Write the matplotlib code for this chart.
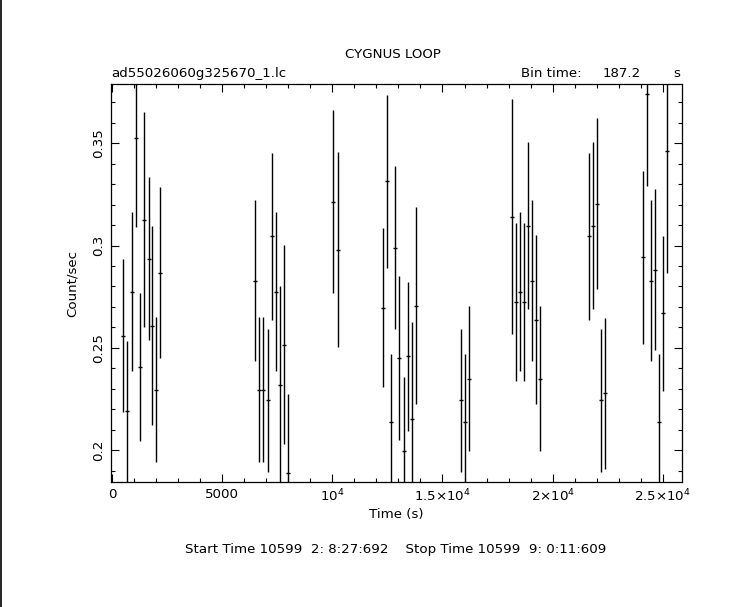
import matplotlib
matplotlib.use("Agg")
import matplotlib.pyplot as plt
from matplotlib.lines import Line2D
from matplotlib.ticker import MultipleLocator, FixedLocator
import numpy as np

# light curve, 187.2 s bins
time_s = [513, 695, 922, 1104, 1285, 1466, 1664, 1830, 2011, 2193,
          6491, 6687, 6868, 7095, 7277, 7458, 7640, 7821, 8003,
          10045, 10272,
          12315, 12497, 12678, 12860, 13041, 13268, 13450, 13631, 13813,
          15856, 16037, 16219,
          18143, 18325, 18507, 18688, 18870, 19052, 19233, 19442,
          21666, 21848, 22029, 22211, 22392,
          24117, 24299, 24481, 24662, 24844, 25025, 25207]
rate = [0.256, 0.2189, 0.2775, 0.3528, 0.2405, 0.3127, 0.2936, 0.2609, 0.2296, 0.2868,
        0.2829, 0.2296, 0.2296, 0.2243, 0.3045, 0.2775, 0.2317, 0.2516, 0.189,
        0.3215, 0.298,
        0.2697, 0.3314, 0.2136, 0.299, 0.2449, 0.1995, 0.2458, 0.2154, 0.2707,
        0.2243, 0.2136, 0.235,
        0.3142, 0.2723, 0.2775, 0.2723, 0.3098, 0.2829, 0.2638, 0.235,
        0.3045, 0.3098, 0.3205, 0.2243, 0.2277,
        0.2944, 0.3743, 0.2829, 0.2883, 0.2136, 0.2668, 0.3464]
rate_err = [0.0373, 0.0343, 0.0388, 0.0437, 0.0361, 0.0525, 0.040, 0.0488, 0.0354, 0.0417,
            0.0393, 0.0354, 0.0354, 0.035, 0.0407, 0.0388, 0.0484, 0.0487, 0.0385,
            0.0448, 0.0476,
            0.039, 0.0422, 0.0336, 0.040, 0.040, 0.0361, 0.0365, 0.047, 0.048,
            0.035, 0.0336, 0.0356,
            0.0575, 0.0385, 0.0387, 0.0385, 0.041, 0.0393, 0.0414, 0.0356,
            0.0407, 0.041, 0.0418, 0.035, 0.0368,
            0.0423, 0.0453, 0.0393, 0.0394, 0.0336, 0.038, 0.0598]
bin_time = 187.2

xtick_vals = [0, 5000, 10000, 15000, 20000, 25000]
xtick_labels = ['0', '5000', r'$10^4$', r'$1.5{\times}10^4$', r'$2{\times}10^4$', r'$2.5{\times}10^4$']
ytick_vals = [0.2, 0.25, 0.3, 0.35]
ytick_labels = ['0.2', '0.25', '0.3', '0.35']


def main():
    plt.rcParams['font.family'] = 'DejaVu Sans'
    plt.rcParams['mathtext.default'] = 'regular'
    fs = 9.6

    fig = plt.figure(figsize=(7.5, 6.07), dpi=100)
    ax = fig.add_axes([0.148, 0.2059, 0.761, 0.6557])

    ax.errorbar(time_s, rate, yerr=rate_err, xerr=bin_time / 2, fmt='none',
                ecolor='black', elinewidth=1.0, capsize=0)

    ax.set_xlim(-45, 25860)
    ax.set_ylim(0.1844, 0.379)

    ax.xaxis.set_major_locator(FixedLocator(xtick_vals))
    ax.set_xticklabels(xtick_labels, fontsize=fs)
    ax.xaxis.set_minor_locator(MultipleLocator(1000))
    ax.yaxis.set_major_locator(FixedLocator(ytick_vals))
    ax.set_yticklabels(ytick_labels, fontsize=fs, rotation=90, va='center')
    ax.yaxis.set_minor_locator(MultipleLocator(0.01))

    ax.tick_params(which='both', direction='in', top=True, right=True, width=0.8)
    ax.tick_params(which='major', length=5.5, pad=4)
    ax.tick_params(which='minor', length=2.8)
    for s in ax.spines.values():
        s.set_linewidth(0.9)

    ax.set_xlabel('Time (s)', fontsize=fs, labelpad=3)
    ax.set_ylabel('Count/sec', fontsize=fs, labelpad=10)

    fig.text(393 / 750, 1 - 55 / 607, 'CYGNUS LOOP', fontsize=fs, ha='center', va='center')
    fig.text(111 / 750, 1 - 77 / 607, 'ad55026060g325670_1.lc', fontsize=fs, ha='left', va='baseline')
    fig.text(521 / 750, 1 - 77 / 607, 'Bin time:', fontsize=fs, ha='left', va='baseline')
    fig.text(641 / 750, 1 - 77 / 607, '187.2', fontsize=fs, ha='right', va='baseline')
    fig.text(680 / 750, 1 - 77 / 607, 's', fontsize=fs, ha='right', va='baseline')
    fig.text(396 / 750, 1 - 549 / 607,
             'Start Time 10599  2: 8:27:692    Stop Time 10599  9: 0:11:609',
             fontsize=fs, ha='center', va='center')

    # black rule at the left edge of the image
    fig.add_artist(Line2D([0.0013, 0.0013], [0, 1], color='black', linewidth=1.2,
                          transform=fig.transFigure))

    fig.savefig('out.png', dpi=100)


if __name__ == "__main__":
    main()
